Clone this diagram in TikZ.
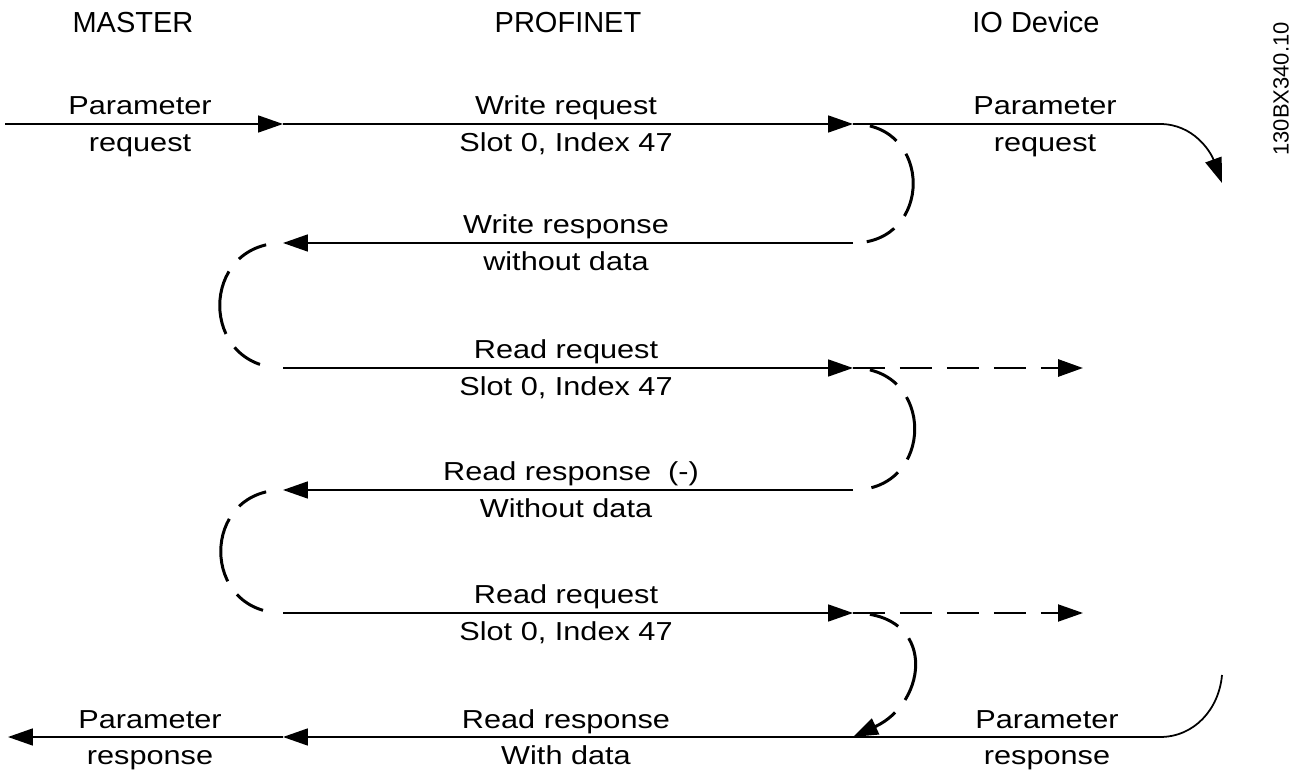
\documentclass[tikz,border=0pt]{standalone}
\usepackage{fontspec}
\setmainfont{Liberation Sans}
\newfontfamily\widefont{Liberation Sans}[FakeStretch=1.18]
\usetikzlibrary{arrows.meta}

\begin{document}
\begin{tikzpicture}[x=0.02cm, y=0.02cm,
  >={Triangle[length=5mm,width=3.4mm]},
  msg/.style={->, line width=1pt},
  turn/.style={line width=1.7pt, dash pattern=on 0pt off 0.34cm on 0.62cm off 0.32cm on 1.3cm off 0.32cm on 0.62cm off 0.6cm},
  lbl/.style={font=\widefont\fontsize{14.8}{17}\selectfont, anchor=base, inner sep=0pt},
  head/.style={font=\fontsize{16.5}{19}\selectfont, anchor=base, inner sep=0pt}]
\useasboundingbox (0,0) rectangle (1296,-773);

% column heads
\node[head] (master) at (133,-33) {MASTER};
\node[head] (profinet) at (568,-33) {PROFINET};
\node[head] (device) at (1036,-33) {IO Device};
\node[font=\fontsize{12.5}{14}\selectfont, rotate=90, inner sep=0pt] (code) at (1281,-89) {130BX340.10};

% message ends
\coordinate (a1) at (5,-124);
\coordinate (b1) at (283,-124);
\coordinate (c1) at (853,-124);
\coordinate (d1) at (1160,-124);
\coordinate (e1) at (1222,-183);
\coordinate (b2) at (283,-243);
\coordinate (c2) at (853,-243);
\coordinate (b3) at (283,-368);
\coordinate (c3) at (853,-368);
\coordinate (f3) at (1083,-368);
\coordinate (b4) at (283,-490);
\coordinate (c4) at (853,-490);
\coordinate (b5) at (283,-613);
\coordinate (c5) at (853,-613);
\coordinate (f5) at (1083,-613);
\coordinate (a6) at (8,-737);
\coordinate (b6) at (283,-737);
\coordinate (c6) at (853,-737);
\coordinate (d6) at (1160,-737);
\coordinate (e6) at (1222,-675);

% labels
\node[lbl] (mreq1) at (140,-115) {Parameter};
\node[lbl] (mreq2) at (140,-152) {request};
\node[lbl] (wreq1) at (566,-115) {Write request};
\node[lbl] (wreq2) at (566,-152) {Slot 0, Index 47};
\node[lbl] (dreq1) at (1045,-115) {Parameter};
\node[lbl] (dreq2) at (1045,-152) {request};
\node[lbl] (wres1) at (566,-234) {Write response};
\node[lbl] (wres2) at (566,-271) {without data};
\node[lbl] (rreq1) at (566,-359) {Read request};
\node[lbl] (rreq2) at (566,-396) {Slot 0, Index 47};
\node[lbl] (rres1) at (571,-481) {Read response\ \ (-)};
\node[lbl] (rres2) at (566,-518) {Without data};
\node[lbl] (rreqb1) at (566,-604) {Read request};
\node[lbl] (rreqb2) at (566,-641) {Slot 0, Index 47};
\node[lbl] (mres1) at (150,-728) {Parameter};
\node[lbl] (mres2) at (150,-765) {response};
\node[lbl] (rresb1) at (566,-728) {Read response};
\node[lbl] (rresb2) at (566,-765) {With data};
\node[lbl] (dres1) at (1047,-728) {Parameter};
\node[lbl] (dres2) at (1047,-765) {response};

% messages
\draw[msg] (a1) -- (b1);
\draw[msg] (b1) -- (c1);
\draw[msg] (c1) -- (d1) to[out=0,in=110] (e1);
\draw[msg] (c2) -- (b2);
\draw[msg] (b3) -- (c3);
\draw[msg] (c4) -- (b4);
\draw[msg] (b5) -- (c5);
\draw[msg] (e6) to[out=-95,in=0] (d6) -- (b6);
\draw[msg] (b6) -- (a6);
\draw[->, line width=1.7pt, dash pattern=on 0.64cm off 0.3cm] (c3) -- (f3);
\draw[->, line width=1.1pt, dash pattern=on 0.64cm off 0.3cm] (c5) -- (f5);

% turn-arounds
\draw[turn] (c1) to[out=0,in=0,looseness=1.73] (c2);
\draw[turn] (b2) to[out=180,in=180,looseness=1.73] (b3);
\draw[turn] (c3) to[out=0,in=0,looseness=1.73] (c4);
\draw[turn] (b4) to[out=180,in=180,looseness=1.73] (b5);
\draw[turn,->] (c5) to[out=0,in=25,looseness=1.73] (c6);
\end{tikzpicture}
\end{document}
